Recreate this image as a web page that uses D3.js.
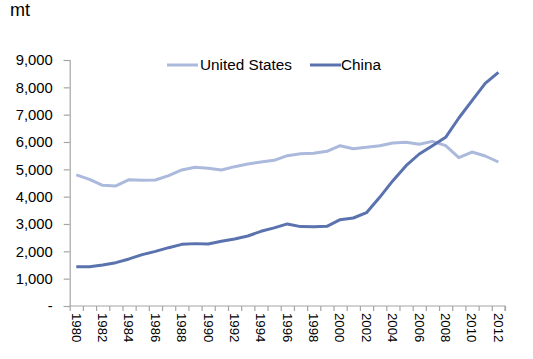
<!DOCTYPE html>
<html>
<head>
<meta charset="utf-8">
<script src="https://cdn.jsdelivr.net/npm/d3@7"></script>
<style>
  body { margin: 0; background: #fff; }
  svg { display: block; font-family: "Liberation Sans", Arial, Helvetica, sans-serif; }
</style>
</head>
<body>
<svg id="chart" width="533" height="359"></svg>
<script>
const years = d3.range(1980, 2013);
const usValues = [4795, 4634, 4414, 4392, 4623, 4600, 4610, 4770, 4976, 5073, 5037, 4976, 5098, 5195, 5268, 5329, 5500, 5573, 5585, 5659, 5866, 5756, 5805, 5866, 5963, 5988, 5915, 6024, 5866, 5427, 5634, 5488, 5268];
const chinaValues = [1440, 1440, 1500, 1586, 1722, 1879, 2000, 2134, 2256, 2282, 2270, 2366, 2453, 2562, 2733, 2857, 3003, 2905, 2902, 2915, 3159, 3220, 3415, 3976, 4585, 5134, 5561, 5866, 6171, 6878, 7512, 8146, 8549];
const yTicks = [0, 1000, 2000, 3000, 4000, 5000, 6000, 7000, 8000, 9000];
const xTickLabels = years.filter(y => y % 2 === 0);
const seriesNames = ["United States", "China"];
const seriesColors = ["#abb9dc", "#5a72ad"];

const svg = d3.select("#chart");
const mLeft = 69.7, mRight = 505, mTop = 60, mBottom = 306;

const x = d3.scaleBand().domain(years).range([mLeft, mRight]).padding(0);
const xEdges = d3.scaleLinear().domain([0, years.length]).range([mLeft, mRight]);
const y = d3.scaleLinear().domain([0, 9000]).range([mBottom, mTop]);

// Y axis
const yAxis = d3.axisLeft(y).tickValues(yTicks).tickSize(6).tickPadding(11)
  .tickFormat(d => d === 0 ? "-" : d3.format(",")(d));
const gy = svg.append("g").attr("transform", `translate(${mLeft},0)`).call(yAxis);
gy.select(".domain").attr("stroke", "#a6a6a6").attr("stroke-width", 1.2);
gy.selectAll(".tick line").attr("stroke", "#a6a6a6").attr("stroke-width", 1.2);
gy.selectAll(".tick text").attr("font-size", "14.8px").attr("fill", "#000")
  .attr("font-family", "Liberation Sans, Arial, sans-serif");

// X axis (ticks at category boundaries)
const xAxis = d3.axisBottom(xEdges).tickValues(d3.range(0, years.length + 1)).tickSize(5).tickFormat("");
const gx = svg.append("g").attr("transform", `translate(0,${mBottom})`).call(xAxis);
gx.select(".domain").attr("stroke", "#a6a6a6").attr("stroke-width", 1.2).attr("d", `M${mLeft},0H${mRight}V5`);
gx.selectAll(".tick line").attr("stroke", "#a6a6a6").attr("stroke-width", 1.2);

// X labels rotated
svg.append("g").selectAll("text").data(xTickLabels).join("text")
  .attr("transform", d => `translate(${x(d) + x.bandwidth() / 2},313) rotate(90)`)
  .attr("dy", "0.35em")
  .attr("text-anchor", "start")
  .attr("font-size", "13.2px")
  .attr("fill", "#000")
  .text(d => d);

// Lines
const line = d3.line().x((d, i) => x(years[i]) + x.bandwidth() / 2).y(d => y(d));
[usValues, chinaValues].forEach((vals, i) => {
  svg.append("path").datum(vals)
    .attr("fill", "none")
    .attr("stroke", seriesColors[i])
    .attr("stroke-width", 3)
    .attr("stroke-linejoin", "round")
    .attr("d", line);
});

// Legend
const legendItems = [{x: 167, tx: 200}, {x: 310, tx: 341}];
legendItems.forEach((it, i) => {
  svg.append("line").attr("x1", it.x).attr("x2", it.x + 31).attr("y1", 65).attr("y2", 65)
    .attr("stroke", seriesColors[i]).attr("stroke-width", 3);
  svg.append("text").attr("x", it.tx).attr("y", 65).attr("dy", "0.35em")
    .attr("font-size", "15.3px").attr("fill", "#000").text(seriesNames[i]);
});

// Unit label
svg.append("text").attr("x", 10).attr("y", 15.5).attr("font-size", "18px").attr("fill", "#000").text("mt");
</script>
</body>
</html>
